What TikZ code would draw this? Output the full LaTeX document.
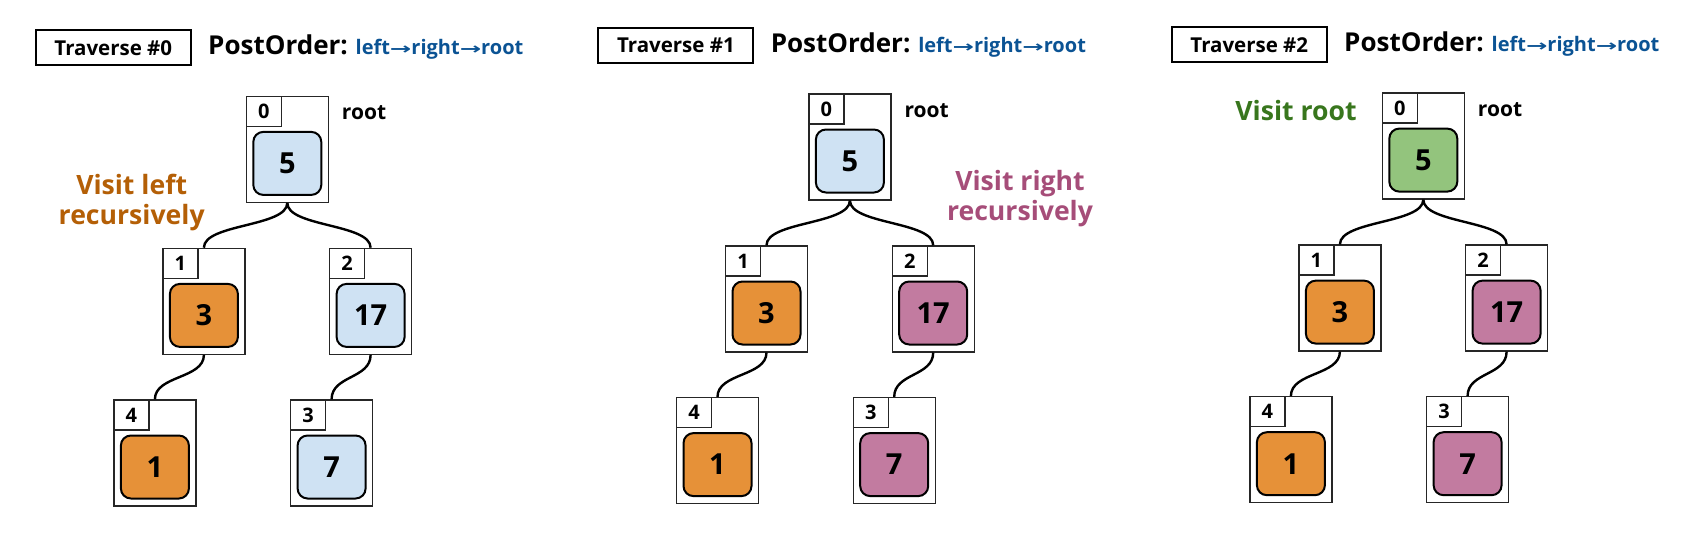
\documentclass[tikz,border=0pt]{standalone}
\usepackage{fontspec}
\setmainfont{Open Sans}
\newfontfamily\arrowfont{DejaVu Sans}
\definecolor{cblue}{HTML}{CFE2F3}
\definecolor{corange}{HTML}{E69138}
\definecolor{cpurple}{HTML}{C27BA0}
\definecolor{cgreen}{HTML}{93C47D}
\definecolor{tblue}{HTML}{0B5394}
\definecolor{torange}{HTML}{B45F06}
\definecolor{tpurple}{HTML}{A64D79}
\definecolor{tgreen}{HTML}{38761D}
\newcommand\arr{{\arrowfont\fontsize{16}{20}\selectfont\raisebox{0.5pt}{\scalebox{1.6}[1]{→}}}}
\tikzset{
  outerbox/.style={draw=black!85, line width=1.2pt, fill=white, minimum width=82pt, minimum height=106pt, anchor=north west, inner sep=0pt},
  idxbox/.style={draw=black!85, line width=1.2pt, minimum width=35pt, minimum height=30pt, anchor=north west, inner sep=0pt, font=\fontsize{20}{24}\selectfont\bfseries},
  valbox/.style={draw=black, line width=2pt, rounded corners=10pt, minimum width=68pt, minimum height=63pt, inner sep=0pt, anchor=south, font=\fontsize{29}{34}\selectfont\bfseries},
  treeedge/.style={line width=2.4pt},
  travbox/.style={draw=black, line width=2pt, minimum width=155pt, minimum height=35pt, inner sep=0pt, font=\fontsize{20.5}{24}\selectfont\bfseries},
  titletext/.style={anchor=base west, inner sep=0pt, font=\fontsize{26}{30}\selectfont\bfseries},
  rootlabel/.style={anchor=west, inner sep=0pt, font=\fontsize{21}{25}\selectfont\bfseries},
  visittext/.style={anchor=base, inner sep=0pt, font=\fontsize{26.6}{31}\selectfont\bfseries}
}
\newcommand\treenode[6]{%
  \node[outerbox] (#1) at (#2,#3) {};
  \node[idxbox] (#1i) at (#1.north west) {#4};
  \node[valbox, fill=#6] (#1v) at ([yshift=7pt]#1.south) {#5};
}
\newcommand\treelink[2]{\draw[treeedge] (#1.south) .. controls +(0,24) and +(0,-24) .. (#2.north);}
% #1 dx, #2 dy, #3 prefix, #4 number, #5 root fill, #6 right fill
\newcommand\panel[6]{%
\begin{scope}[shift={(#1,#2)}]
  \node[travbox] (#3t) at (113.3,48) {Traverse \##4};
  \node[titletext] (#3p) at (208,55) {PostOrder:\hspace{0.3em}\textcolor{tblue}{\fontsize{20}{24}\selectfont left\arr right\arr root}};
  \treenode{#3n0}{245.7}{95.7}{0}{5}{#5}
  \treenode{#3n1}{162.3}{247.7}{1}{3}{corange}
  \treenode{#3n2}{329}{247.7}{2}{17}{#6}
  \treenode{#3n4}{113.3}{399.3}{4}{1}{corange}
  \treenode{#3n3}{290}{399.3}{3}{7}{#6}
  \node[rootlabel] (#3r) at (341.7,112.7) {root};
  \treelink{#3n0}{#3n1}
  \treelink{#3n0}{#3n2}
  \treelink{#3n1}{#3n4}
  \treelink{#3n2}{#3n3}
\end{scope}}
\begin{document}
\begin{tikzpicture}[x=1pt,y=-1pt]
\useasboundingbox (0,0) rectangle (1692,551);
\panel{0}{0}{A}{0}{cblue}{cblue}
\panel{562.6}{-2.4}{B}{1}{cblue}{cpurple}
\panel{1136}{-3.3}{C}{2}{cgreen}{cpurple}
\node[visittext, text=torange] (va1) at (131.7,194) {Visit left};
\node[visittext, text=torange] (va2) at (131.7,224) {recursively};
\node[visittext, text=tpurple] (vb1) at (1020,190) {Visit right};
\node[visittext, text=tpurple] (vb2) at (1020,220) {recursively};
\node[visittext, text=tgreen] (vc1) at (1296,120.7) {Visit root};
\end{tikzpicture}
\end{document}
